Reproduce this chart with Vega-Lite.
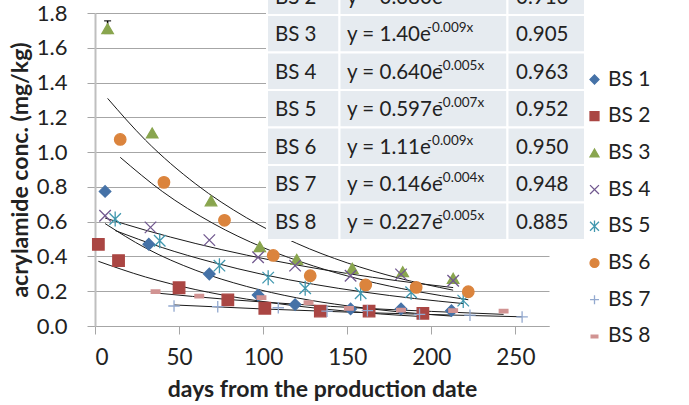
{
  "$schema": "https://vega.github.io/schema/vega-lite/v6.json",
  "width": 454,
  "height": 313,
  "autosize": {"type": "none"},
  "padding": {"left": 95, "top": 13, "right": 140, "bottom": 79},
  "background": "white",
  "config": {"view": {"stroke": null}, "font": "Lato"},
  "datasets": {
    "points": [
      {"series": "BS 1", "day": 6, "value": 0.774},
      {"series": "BS 1", "day": 32, "value": 0.47},
      {"series": "BS 1", "day": 68, "value": 0.299},
      {"series": "BS 1", "day": 97, "value": 0.178},
      {"series": "BS 1", "day": 119, "value": 0.123},
      {"series": "BS 1", "day": 152, "value": 0.098},
      {"series": "BS 1", "day": 182, "value": 0.098},
      {"series": "BS 1", "day": 212, "value": 0.088},
      {"series": "BS 2", "day": 2, "value": 0.47},
      {"series": "BS 2", "day": 14, "value": 0.376},
      {"series": "BS 2", "day": 50, "value": 0.22},
      {"series": "BS 2", "day": 79, "value": 0.15},
      {"series": "BS 2", "day": 101, "value": 0.102},
      {"series": "BS 2", "day": 134, "value": 0.086},
      {"series": "BS 2", "day": 163, "value": 0.086},
      {"series": "BS 2", "day": 195, "value": 0.073},
      {"series": "BS 3", "day": 7.5, "value": 1.71, "lo": 1.683, "hi": 1.755},
      {"series": "BS 3", "day": 34, "value": 1.11},
      {"series": "BS 3", "day": 69, "value": 0.72},
      {"series": "BS 3", "day": 98, "value": 0.456},
      {"series": "BS 3", "day": 120, "value": 0.383},
      {"series": "BS 3", "day": 153, "value": 0.332},
      {"series": "BS 3", "day": 183, "value": 0.312},
      {"series": "BS 3", "day": 213, "value": 0.274},
      {"series": "BS 4", "day": 6, "value": 0.634},
      {"series": "BS 4", "day": 33, "value": 0.567},
      {"series": "BS 4", "day": 68, "value": 0.494},
      {"series": "BS 4", "day": 97, "value": 0.395},
      {"series": "BS 4", "day": 119, "value": 0.347},
      {"series": "BS 4", "day": 152, "value": 0.289},
      {"series": "BS 4", "day": 182, "value": 0.297},
      {"series": "BS 4", "day": 213, "value": 0.26},
      {"series": "BS 5", "day": 12, "value": 0.615},
      {"series": "BS 5", "day": 38.5, "value": 0.49},
      {"series": "BS 5", "day": 74, "value": 0.347},
      {"series": "BS 5", "day": 103, "value": 0.278},
      {"series": "BS 5", "day": 125, "value": 0.217},
      {"series": "BS 5", "day": 158, "value": 0.188},
      {"series": "BS 5", "day": 188, "value": 0.194},
      {"series": "BS 5", "day": 219, "value": 0.146},
      {"series": "BS 6", "day": 15, "value": 1.073},
      {"series": "BS 6", "day": 41, "value": 0.826},
      {"series": "BS 6", "day": 77, "value": 0.608},
      {"series": "BS 6", "day": 106, "value": 0.406},
      {"series": "BS 6", "day": 128, "value": 0.289},
      {"series": "BS 6", "day": 161, "value": 0.236},
      {"series": "BS 6", "day": 191, "value": 0.222},
      {"series": "BS 6", "day": 222, "value": 0.197},
      {"series": "BS 7", "day": 47, "value": 0.115},
      {"series": "BS 7", "day": 73, "value": 0.111},
      {"series": "BS 7", "day": 109, "value": 0.105},
      {"series": "BS 7", "day": 138, "value": 0.085},
      {"series": "BS 7", "day": 162, "value": 0.088},
      {"series": "BS 7", "day": 193, "value": 0.067},
      {"series": "BS 7", "day": 223, "value": 0.062},
      {"series": "BS 7", "day": 254, "value": 0.052},
      {"series": "BS 8", "day": 36, "value": 0.197},
      {"series": "BS 8", "day": 62, "value": 0.172},
      {"series": "BS 8", "day": 99, "value": 0.163},
      {"series": "BS 8", "day": 127, "value": 0.134},
      {"series": "BS 8", "day": 151, "value": 0.102},
      {"series": "BS 8", "day": 182, "value": 0.092},
      {"series": "BS 8", "day": 213, "value": 0.088},
      {"series": "BS 8", "day": 243, "value": 0.086}
    ],
    "trend": [
      {"series": "BS 1", "day": 6, "value": 0.589},
      {"series": "BS 1", "day": 30, "value": 0.449},
      {"series": "BS 1", "day": 60, "value": 0.32},
      {"series": "BS 1", "day": 90, "value": 0.228},
      {"series": "BS 1", "day": 120, "value": 0.162},
      {"series": "BS 1", "day": 150, "value": 0.116},
      {"series": "BS 1", "day": 180, "value": 0.082},
      {"series": "BS 1", "day": 212, "value": 0.057},
      {"series": "BS 2", "day": 2, "value": 0.372},
      {"series": "BS 2", "day": 30, "value": 0.282},
      {"series": "BS 2", "day": 60, "value": 0.209},
      {"series": "BS 2", "day": 90, "value": 0.155},
      {"series": "BS 2", "day": 120, "value": 0.115},
      {"series": "BS 2", "day": 150, "value": 0.085},
      {"series": "BS 2", "day": 170, "value": 0.069},
      {"series": "BS 2", "day": 195, "value": 0.054},
      {"series": "BS 3", "day": 7.5, "value": 1.309},
      {"series": "BS 3", "day": 30, "value": 1.069},
      {"series": "BS 3", "day": 60, "value": 0.816},
      {"series": "BS 3", "day": 90, "value": 0.623},
      {"series": "BS 3", "day": 120, "value": 0.475},
      {"series": "BS 3", "day": 150, "value": 0.363},
      {"series": "BS 3", "day": 180, "value": 0.277},
      {"series": "BS 3", "day": 213, "value": 0.206},
      {"series": "BS 4", "day": 6, "value": 0.621},
      {"series": "BS 4", "day": 30, "value": 0.551},
      {"series": "BS 4", "day": 60, "value": 0.474},
      {"series": "BS 4", "day": 90, "value": 0.408},
      {"series": "BS 4", "day": 120, "value": 0.351},
      {"series": "BS 4", "day": 150, "value": 0.302},
      {"series": "BS 4", "day": 180, "value": 0.26},
      {"series": "BS 4", "day": 213, "value": 0.221},
      {"series": "BS 5", "day": 12, "value": 0.549},
      {"series": "BS 5", "day": 40, "value": 0.451},
      {"series": "BS 5", "day": 70, "value": 0.366},
      {"series": "BS 5", "day": 100, "value": 0.296},
      {"series": "BS 5", "day": 130, "value": 0.24},
      {"series": "BS 5", "day": 160, "value": 0.195},
      {"series": "BS 5", "day": 190, "value": 0.158},
      {"series": "BS 5", "day": 219, "value": 0.129},
      {"series": "BS 6", "day": 15, "value": 0.97},
      {"series": "BS 6", "day": 40, "value": 0.774},
      {"series": "BS 6", "day": 70, "value": 0.591},
      {"series": "BS 6", "day": 100, "value": 0.451},
      {"series": "BS 6", "day": 130, "value": 0.345},
      {"series": "BS 6", "day": 160, "value": 0.263},
      {"series": "BS 6", "day": 190, "value": 0.201},
      {"series": "BS 6", "day": 222, "value": 0.151},
      {"series": "BS 7", "day": 47, "value": 0.121},
      {"series": "BS 7", "day": 100, "value": 0.098},
      {"series": "BS 7", "day": 150, "value": 0.08},
      {"series": "BS 7", "day": 200, "value": 0.066},
      {"series": "BS 7", "day": 254, "value": 0.053},
      {"series": "BS 8", "day": 36, "value": 0.19},
      {"series": "BS 8", "day": 80, "value": 0.152},
      {"series": "BS 8", "day": 120, "value": 0.125},
      {"series": "BS 8", "day": 160, "value": 0.102},
      {"series": "BS 8", "day": 200, "value": 0.084},
      {"series": "BS 8", "day": 243, "value": 0.067}
    ],
    "table": [
      {"series": "BS 1", "base": "y = 0.630e", "sup": "-0.011x", "r2": "0.931"},
      {"series": "BS 2", "base": "y = 0.380e", "sup": "-0.010x", "r2": "0.916"},
      {"series": "BS 3", "base": "y = 1.40e", "sup": "-0.009x", "r2": "0.905"},
      {"series": "BS 4", "base": "y = 0.640e", "sup": "-0.005x", "r2": "0.963"},
      {"series": "BS 5", "base": "y = 0.597e", "sup": "-0.007x", "r2": "0.952"},
      {"series": "BS 6", "base": "y = 1.11e", "sup": "-0.009x", "r2": "0.950"},
      {"series": "BS 7", "base": "y = 0.146e", "sup": "-0.004x", "r2": "0.948"},
      {"series": "BS 8", "base": "y = 0.227e", "sup": "-0.005x", "r2": "0.885"}
    ]
  },
  "layer": [
    {
      "data": {"name": "trend"},
      "mark": {"type": "line", "color": "#1a1a1a", "strokeWidth": 1, "interpolate": "monotone"},
      "encoding": {
        "x": {"field": "day", "type": "quantitative", "scale": {"domain": [0, 270]}, "axis": null},
        "y": {"field": "value", "type": "quantitative", "scale": {"domain": [0, 1.8]}, "axis": null},
        "detail": {"field": "series"}
      }
    },
    {
      "data": {"name": "points"},
      "transform": [{"filter": "isValid(datum.hi)"}],
      "mark": {"type": "rule", "color": "#000000", "strokeWidth": 1.5},
      "encoding": {
        "x": {"field": "day", "type": "quantitative", "scale": {"domain": [0, 270]}, "axis": null},
        "y": {"field": "lo", "type": "quantitative", "scale": {"domain": [0, 1.8]}, "axis": null},
        "y2": {"field": "hi"}
      }
    },
    {
      "data": {"name": "points"},
      "transform": [{"filter": "isValid(datum.hi)"}],
      "mark": {"type": "tick", "color": "#000000", "orient": "horizontal", "size": 7, "thickness": 1.5},
      "encoding": {
        "x": {"field": "day", "type": "quantitative", "scale": {"domain": [0, 270]}, "axis": null},
        "y": {"field": "hi", "type": "quantitative", "scale": {"domain": [0, 1.8]}, "axis": null}
      }
    },
    {
      "data": {"name": "points"},
      "transform": [{"filter": "isValid(datum.hi)"}],
      "mark": {"type": "tick", "color": "#000000", "orient": "horizontal", "size": 7, "thickness": 1.5},
      "encoding": {
        "x": {"field": "day", "type": "quantitative", "scale": {"domain": [0, 270]}, "axis": null},
        "y": {"field": "lo", "type": "quantitative", "scale": {"domain": [0, 1.8]}, "axis": null}
      }
    },
    {
      "data": {"name": "points"},
      "mark": {"type": "point", "filled": true, "size": 132, "strokeWidth": 1.3, "opacity": 1},
      "encoding": {
        "x": {
          "field": "day", "type": "quantitative",
          "scale": {"domain": [0, 270]},
          "axis": {
            "title": "days from the production date",
            "values": [0, 50, 100, 150, 200, 250],
            "grid": false,
            "domainColor": "#a6a6a6", "domainWidth": 1,
            "tickColor": "#a6a6a6", "tickSize": 8,
            "labelFont": "Lato", "labelFontSize": 22.5, "labelColor": "#222222", "labelPadding": 12,
            "titleFont": "Lato", "titleFontSize": 23, "titleFontWeight": "bold", "titleColor": "#222222", "titlePadding": 10
          }
        },
        "y": {
          "field": "value", "type": "quantitative",
          "scale": {"domain": [0, 1.8]},
          "axis": {
            "title": "acrylamide conc. (mg/kg)",
            "values": [0, 0.2, 0.4, 0.6, 0.8, 1.0, 1.2, 1.4, 1.6, 1.8],
            "format": ".1f",
            "grid": true, "gridColor": "#a6a6a6", "gridWidth": 1,
            "domainColor": "#bfbfbf", "domainWidth": 2,
            "tickColor": "#a6a6a6", "tickSize": 8,
            "labelFont": "Lato", "labelFontSize": 22, "labelColor": "#222222", "labelPadding": 20,
            "titleFont": "Lato", "titleFontSize": 23, "titleFontWeight": "bold", "titleColor": "#222222", "titlePadding": 4
          }
        },
        "color": {
          "field": "series", "type": "nominal",
          "scale": {
            "domain": ["BS 1", "BS 2", "BS 3", "BS 4", "BS 5", "BS 6", "BS 7", "BS 8"],
            "range": ["#4572A7", "#AA4643", "#89A54E", "#71588F", "#4198AF", "#DB843D", "#93A9CF", "#D19392"]
          },
          "legend": {
            "title": null, "orient": "none", "legendX": 489, "legendY": 56,
            "labelFont": "Lato", "labelFontSize": 21, "labelColor": "#222222",
            "symbolSize": 80, "symbolStrokeWidth": 1.3, "rowPadding": 14.7, "labelOffset": 3
          }
        },
        "stroke": {
          "field": "series", "type": "nominal",
          "scale": {
            "domain": ["BS 1", "BS 2", "BS 3", "BS 4", "BS 5", "BS 6", "BS 7", "BS 8"],
            "range": ["#4572A7", "#AA4643", "#89A54E", "#71588F", "#4198AF", "#DB843D", "#93A9CF", "#D19392"]
          },
          "legend": {
            "title": null, "orient": "none", "legendX": 489, "legendY": 56,
            "labelFont": "Lato", "labelFontSize": 21, "labelColor": "#222222",
            "symbolSize": 80, "symbolStrokeWidth": 1.3, "rowPadding": 14.7, "labelOffset": 3
          }
        },
        "shape": {
          "field": "series", "type": "nominal",
          "scale": {
            "domain": ["BS 1", "BS 2", "BS 3", "BS 4", "BS 5", "BS 6", "BS 7", "BS 8"],
            "range": ["diamond", "square", "triangle-up", "M-1,-1L1,1M-1,1L1,-1", "M-1,-1L1,1M-1,1L1,-1M0,-1.3L0,1.3", "circle", "M-1,0L1,0M0,-1L0,1", "M-0.75,-0.3L0.75,-0.3L0.75,0.3L-0.75,0.3Z"]
          },
          "legend": {
            "title": null, "orient": "none", "legendX": 489, "legendY": 56,
            "labelFont": "Lato", "labelFontSize": 21, "labelColor": "#222222",
            "symbolSize": 80, "symbolStrokeWidth": 1.3, "rowPadding": 14.7, "labelOffset": 3
          }
        }
      }
    },
    {
      "data": {"name": "table"},
      "mark": {"type": "rect", "fill": "#e6ebf0", "stroke": "white", "strokeWidth": 2},
      "encoding": {
        "y": {"field": "series", "type": "nominal", "scale": {"type": "band", "domain": ["BS 1", "BS 2", "BS 3", "BS 4", "BS 5", "BS 6", "BS 7", "BS 8"], "range": [-73, 227], "paddingInner": 0, "paddingOuter": 0}, "axis": null},
        "x": {"datum": 102.3, "type": "quantitative", "scale": {"domain": [0, 270]}, "axis": null},
        "x2": {"datum": 145.4}
      }
    },
    {
      "data": {"name": "table"},
      "mark": {"type": "rect", "fill": "#e6ebf0", "stroke": "white", "strokeWidth": 2},
      "encoding": {
        "y": {"field": "series", "type": "nominal", "scale": {"type": "band", "domain": ["BS 1", "BS 2", "BS 3", "BS 4", "BS 5", "BS 6", "BS 7", "BS 8"], "range": [-73, 227], "paddingInner": 0, "paddingOuter": 0}, "axis": null},
        "x": {"datum": 145.4, "type": "quantitative", "scale": {"domain": [0, 270]}, "axis": null},
        "x2": {"datum": 245.3}
      }
    },
    {
      "data": {"name": "table"},
      "mark": {"type": "rect", "fill": "#e6ebf0", "stroke": "white", "strokeWidth": 2},
      "encoding": {
        "y": {"field": "series", "type": "nominal", "scale": {"type": "band", "domain": ["BS 1", "BS 2", "BS 3", "BS 4", "BS 5", "BS 6", "BS 7", "BS 8"], "range": [-73, 227], "paddingInner": 0, "paddingOuter": 0}, "axis": null},
        "x": {"datum": 245.3, "type": "quantitative", "scale": {"domain": [0, 270]}, "axis": null},
        "x2": {"datum": 291.4}
      }
    },
    {
      "data": {"name": "table"},
      "mark": {"type": "text", "align": "left", "baseline": "middle", "font": "Lato", "fontSize": 20.5, "color": "#222222", "dy": 1.5},
      "encoding": {
        "y": {"field": "series", "type": "nominal", "scale": {"type": "band", "domain": ["BS 1", "BS 2", "BS 3", "BS 4", "BS 5", "BS 6", "BS 7", "BS 8"], "range": [-73, 227], "paddingInner": 0, "paddingOuter": 0}, "axis": null},
        "x": {"datum": 107.0, "type": "quantitative", "scale": {"domain": [0, 270]}, "axis": null},
        "text": {"field": "series"}
      }
    },
    {
      "data": {"name": "table"},
      "mark": {"type": "text", "align": "left", "baseline": "middle", "font": "Lato", "fontSize": 20.5, "color": "#222222", "dy": 1.5},
      "encoding": {
        "y": {"field": "series", "type": "nominal", "scale": {"type": "band", "domain": ["BS 1", "BS 2", "BS 3", "BS 4", "BS 5", "BS 6", "BS 7", "BS 8"], "range": [-73, 227], "paddingInner": 0, "paddingOuter": 0}, "axis": null},
        "x": {"datum": 149.9, "type": "quantitative", "scale": {"domain": [0, 270]}, "axis": null},
        "text": {"field": "base"}
      }
    },
    {
      "data": {"name": "table"},
      "mark": {"type": "text", "align": "left", "baseline": "middle", "font": "Lato", "fontSize": 13.5, "color": "#222222", "dy": -5.5, "dx": {"expr": "80 + 10.8 * (length(datum.base) - 9)"}},
      "encoding": {
        "y": {"field": "series", "type": "nominal", "scale": {"type": "band", "domain": ["BS 1", "BS 2", "BS 3", "BS 4", "BS 5", "BS 6", "BS 7", "BS 8"], "range": [-73, 227], "paddingInner": 0, "paddingOuter": 0}, "axis": null},
        "x": {"datum": 149.9, "type": "quantitative", "scale": {"domain": [0, 270]}, "axis": null},
        "text": {"field": "sup"}
      }
    },
    {
      "data": {"name": "table"},
      "mark": {"type": "text", "align": "left", "baseline": "middle", "font": "Lato", "fontSize": 20.5, "color": "#222222", "dy": 1.5},
      "encoding": {
        "y": {"field": "series", "type": "nominal", "scale": {"type": "band", "domain": ["BS 1", "BS 2", "BS 3", "BS 4", "BS 5", "BS 6", "BS 7", "BS 8"], "range": [-73, 227], "paddingInner": 0, "paddingOuter": 0}, "axis": null},
        "x": {"datum": 250.4, "type": "quantitative", "scale": {"domain": [0, 270]}, "axis": null},
        "text": {"field": "r2"}
      }
    }
  ],
  "resolve": {"scale": {"y": "independent"}, "axis": {"x": "independent", "y": "independent"}}
}
